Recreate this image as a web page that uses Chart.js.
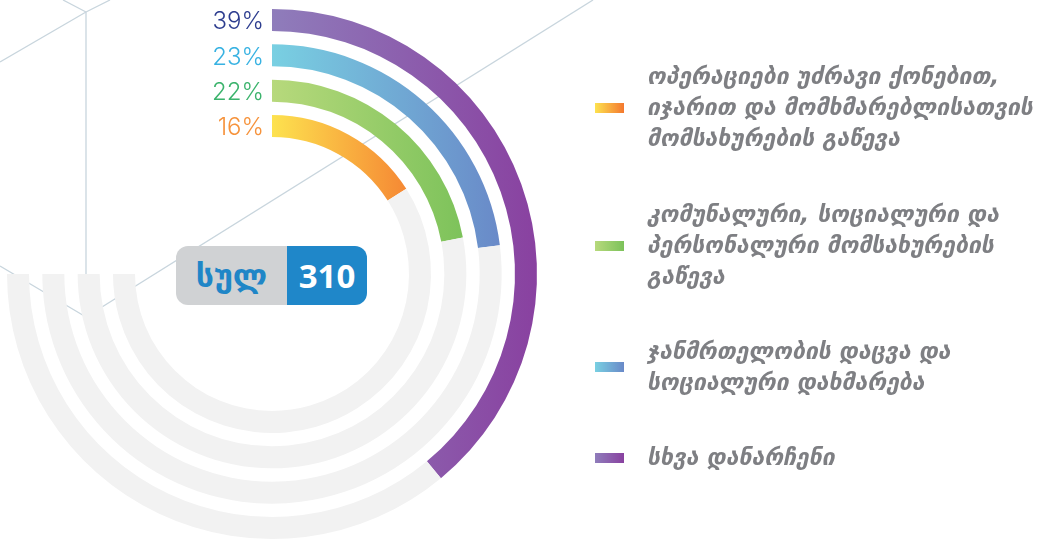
<!DOCTYPE html>
<html>
<head>
<meta charset="utf-8">
<script src="https://cdn.jsdelivr.net/npm/chart.js@4.4.1/dist/chart.umd.min.js"></script>
<style>
  html, body { margin: 0; padding: 0; background: #fff; }
  #wrap { position: relative; width: 1049px; height: 540px; overflow: hidden; }
  #bg { position: absolute; left: 0; top: 0; }
  #chart { position: absolute; left: 0; top: 0; }
  .badge { position: absolute; left: 176px; top: 246px; width: 191px; height: 59px; border-radius: 12px; overflow: hidden; display: flex; font-family: "DejaVu Sans", sans-serif; font-weight: bold; }
  .badge .lbl { width: 111px; background: #d0d2d4; color: #1f86c7; font-size: 32px; display: flex; align-items: center; justify-content: center; }
  .badge .num { width: 80px; background: #1f87c9; color: #fff; font-family: "Open Sans", sans-serif; font-size: 33px; display: flex; align-items: center; justify-content: center; }
  .legend { position: absolute; left: 595px; top: 0; font-family: "DejaVu Sans", sans-serif; font-weight: bold; font-style: oblique; color: #7e7f83; font-size: 23px; line-height: 31px; }
  .item { position: absolute; left: 0; display: flex; align-items: center; white-space: nowrap; }
  .sw { width: 29px; height: 10px; margin-right: 23px; flex: none; }
</style>
</head>
<body>
<div id="wrap">
  <svg id="bg" width="1049" height="540">
    <g stroke="#c8d5dd" stroke-width="1.3" fill="none">
      <line x1="0" y1="62" x2="86" y2="12"/>
      <line x1="63" y1="0" x2="86" y2="12"/>
      <line x1="86" y1="12" x2="110" y2="0"/>
      <line x1="86" y1="12" x2="86" y2="317"/>
      <line x1="0" y1="266" x2="86" y2="317"/>
      <line x1="86" y1="317" x2="593" y2="0"/>
    </g>
  </svg>
  <canvas id="chart" width="1049" height="540"></canvas>
  <div class="badge"><div class="lbl">სულ</div><div class="num" id="total"></div></div>
  <div class="legend" id="legend"></div>
</div>
<script>
// categories, outermost ring first
const categories = [
  'სხვა დანარჩენი',
  'ჯანმრთელობის დაცვა და სოციალური დახმარება',
  'კომუნალური, სოციალური და პერსონალური მომსახურების გაწევა',
  'ოპერაციები უძრავი ქონებით, იჯარით და მომხმარებლისათვის მომსახურების გაწევა'
];
const shares = [39, 23, 22, 16];   // %
const total = 310;
const trackShare = 75;             // gray track = 3/4 of the circle

const gradStops = [
  ['#8f7dbb', '#8941a0'],
  ['#79d0e2', '#6989c8'],
  ['#b7d97c', '#7cc25a'],
  ['#fde24f', '#f4782f']
];
const labelColors = ['#2d3d8f', '#38b2e2', '#3bb36c', '#f6933c'];
const trackColor = '#f2f2f2';

// legend wrapping as in the original, listed top to bottom
const legendLines = [
  ['ოპერაციები უძრავი ქონებით,', 'იჯარით და მომხმარებლისათვის', 'მომსახურების გაწევა'],
  ['კომუნალური, სოციალური და', 'პერსონალური მომსახურების', 'გაწევა'],
  ['ჯანმრთელობის დაცვა და', 'სოციალური დახმარება'],
  ['სხვა დანარჩენი']
];
const legendTops = [61, 199, 336, 442];
const legendRing = [3, 2, 1, 0];

const RING = 22, GAP = 13.3;

function ringGradient(i) {
  return (c) => {
    const chart = c.chart;
    const area = chart.chartArea;
    if (!area) return gradStops[i][0];
    const cx = (area.left + area.right) / 2;
    const ctrl = chart.getDatasetMeta(c.datasetIndex).controller;
    const r = ctrl.outerRadius || (area.right - area.left) / 2;
    const g = chart.ctx.createLinearGradient(cx, 0, cx + r, 0);
    g.addColorStop(0, gradStops[i][0]);
    g.addColorStop(1, gradStops[i][1]);
    return c.dataIndex === 0 ? g : trackColor;
  };
}

const datasets = [];
shares.forEach((v, i) => {
  if (i > 0) datasets.push({ data: [trackShare], backgroundColor: 'rgba(0,0,0,0)', weight: GAP, isGap: true });
  datasets.push({
    label: categories[i],
    data: [v, trackShare - v],
    backgroundColor: ringGradient(i),
    weight: RING,
    ring: i
  });
});

const ringLabels = {
  id: 'ringLabels',
  afterDatasetsDraw(chart) {
    const ctx = chart.ctx;
    const area = chart.chartArea;
    const cx = (area.left + area.right) / 2;
    const cy = (area.top + area.bottom) / 2;
    ctx.save();
    ctx.font = '300 24px Inter, Lato, sans-serif';
    ctx.textAlign = 'right';
    ctx.textBaseline = 'middle';
    chart.data.datasets.forEach((ds, di) => {
      if (ds.isGap) return;
      const c = chart.getDatasetMeta(di).controller;
      const mid = (c.outerRadius + c.innerRadius) / 2;
      ctx.fillStyle = labelColors[ds.ring];
      ctx.fillText(shares[ds.ring] + '%', cx - 8, cy - mid + 2);
    });
    ctx.restore();
  }
};

new Chart(document.getElementById('chart'), {
  type: 'doughnut',
  data: { labels: ['value', 'rest'], datasets },
  options: {
    responsive: false,
    animation: false,
    circumference: 270,
    rotation: 0,
    radius: 265,
    cutout: 137,
    borderWidth: 0,
    hoverOffset: 0,
    layout: { padding: { left: 7, top: 9, right: 512, bottom: 1 } },
    plugins: { legend: { display: false }, tooltip: { enabled: false } }
  },
  plugins: [ringLabels]
});

document.getElementById('total').textContent = total;

const legend = document.getElementById('legend');
legendLines.forEach((lines, k) => {
  const i = legendRing[k];
  const item = document.createElement('div');
  item.className = 'item';
  item.style.top = legendTops[k] + 'px';
  item.innerHTML = `<span class="sw" style="background:linear-gradient(90deg, ${gradStops[i][0]}, ${gradStops[i][1]})"></span><span>${lines.join('<br>')}</span>`;
  legend.appendChild(item);
});
</script>
</body>
</html>
